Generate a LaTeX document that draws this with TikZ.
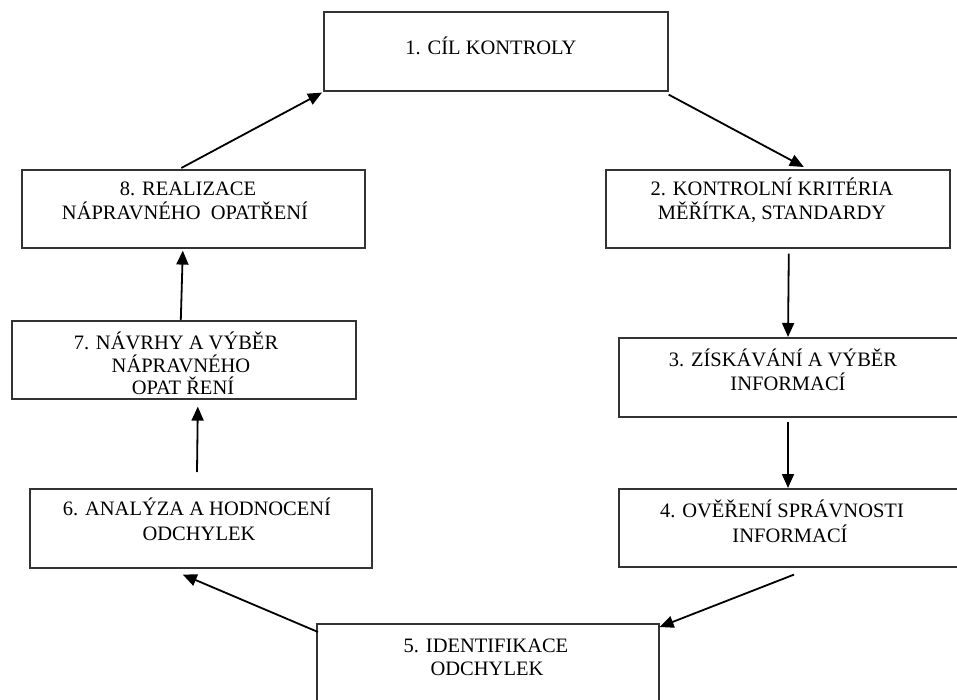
\documentclass[tikz,border=0pt]{standalone}
\usepackage{fontspec}
\setmainfont{Liberation Serif}
\usetikzlibrary{arrows.meta,calc}
\begin{document}
\begin{tikzpicture}[x=1pt,y=-1pt,
  box/.style={draw=black!80,line width=1.6pt,inner sep=0pt,anchor=north west},
  txt/.style={anchor=base,inner sep=0pt,font=\fontsize{20.5}{24}\selectfont,text=black},
  flow/.style={draw=black,line width=1.8pt,-{Triangle[length=14pt,width=12pt]}}]
\useasboundingbox (0,0) rectangle (957,700);
\begin{scope}
\clip (0,0) rectangle (957,700);
% process boxes
\node[box,minimum width=344pt,minimum height=79pt] (b1) at (323,11) {};
\node[box,minimum width=344pt,minimum height=78pt] (b2) at (605,169) {};
\node[box,minimum width=352pt,minimum height=79pt] (b3) at (618,337) {};
\node[box,minimum width=352pt,minimum height=78pt] (b4) at (618,488) {};
\node[box,minimum width=342pt,minimum height=97pt] (b5) at (316,623) {};
\node[box,minimum width=342pt,minimum height=79pt] (b6) at (29,488) {};
\node[box,minimum width=344pt,minimum height=78pt] (b7) at (11,320) {};
\node[box,minimum width=343pt,minimum height=78pt] (b8) at (21,169) {};
\end{scope}
% labels
\node[txt] (t1) at (491,55) {1. CÍL KONTROLY};
\node[txt] (t2a) at (772,196) {2. KONTROLNÍ KRITÉRIA};
\node[txt] (t2b) at (772,220) {MĚŘÍTKA, STANDARDY};
\node[txt] (t3a) at (783,366) {3. ZÍSKÁVÁNÍ A VÝBĚR};
\node[txt] (t3b) at (788,390) {INFORMACÍ};
\node[txt] (t4a) at (782,517) {4. OVĚŘENÍ SPRÁVNOSTI};
\node[txt] (t4b) at (790,542) {INFORMACÍ};
\node[txt] (t5a) at (486,652) {5. IDENTIFIKACE};
\node[txt] (t5b) at (487,675) {ODCHYLEK};
\node[txt] (t6a) at (197,515) {6. ANALÝZA A HODNOCENÍ};
\node[txt] (t6b) at (199,540) {ODCHYLEK};
\node[txt] (t7a) at (176,349) {7. NÁVRHY A VÝBĚR};
\node[txt] (t7b) at (181,372) {NÁPRAVNÉHO};
\node[txt] (t7c) at (183,394) {OPAT ŘENÍ};
\node[txt] (t8a) at (188,196) {8. REALIZACE};
\node[txt] (t8b) at (185,220) {NÁPRAVNÉHO\ \ OPATŘENÍ};
% control cycle
\draw[flow] ($(b8.north)+(-12,-1)$) -- ($(b1.south west)+(-1,1)$);
\draw[flow] ($(b1.south east)+(0,3)$) -- ($(b2.north)+(26,-2)$);
\draw[flow] ($(b2.south)+(11,5)$) -- ($(b3.north west)+(170,0)$);
\draw[flow] ($(b3.south west)+(170,4)$) -- ($(b4.north west)+(170,0)$);
\draw[flow] ($(b4.south west)+(176,7)$) -- ($(b5.north east)+(0,4)$);
\draw[flow] ($(b5.north west)+(2,9)$) -- ($(b6.south)+(-18,6)$);
\draw[flow] ($(b6.north west)+(168,-16)$) -- ($(b7.south)+(14,7)$);
\draw[flow] ($(b7.north)+(-3,0)$) -- ($(b8.south)+(-10.5,2)$);
\end{tikzpicture}
\end{document}
